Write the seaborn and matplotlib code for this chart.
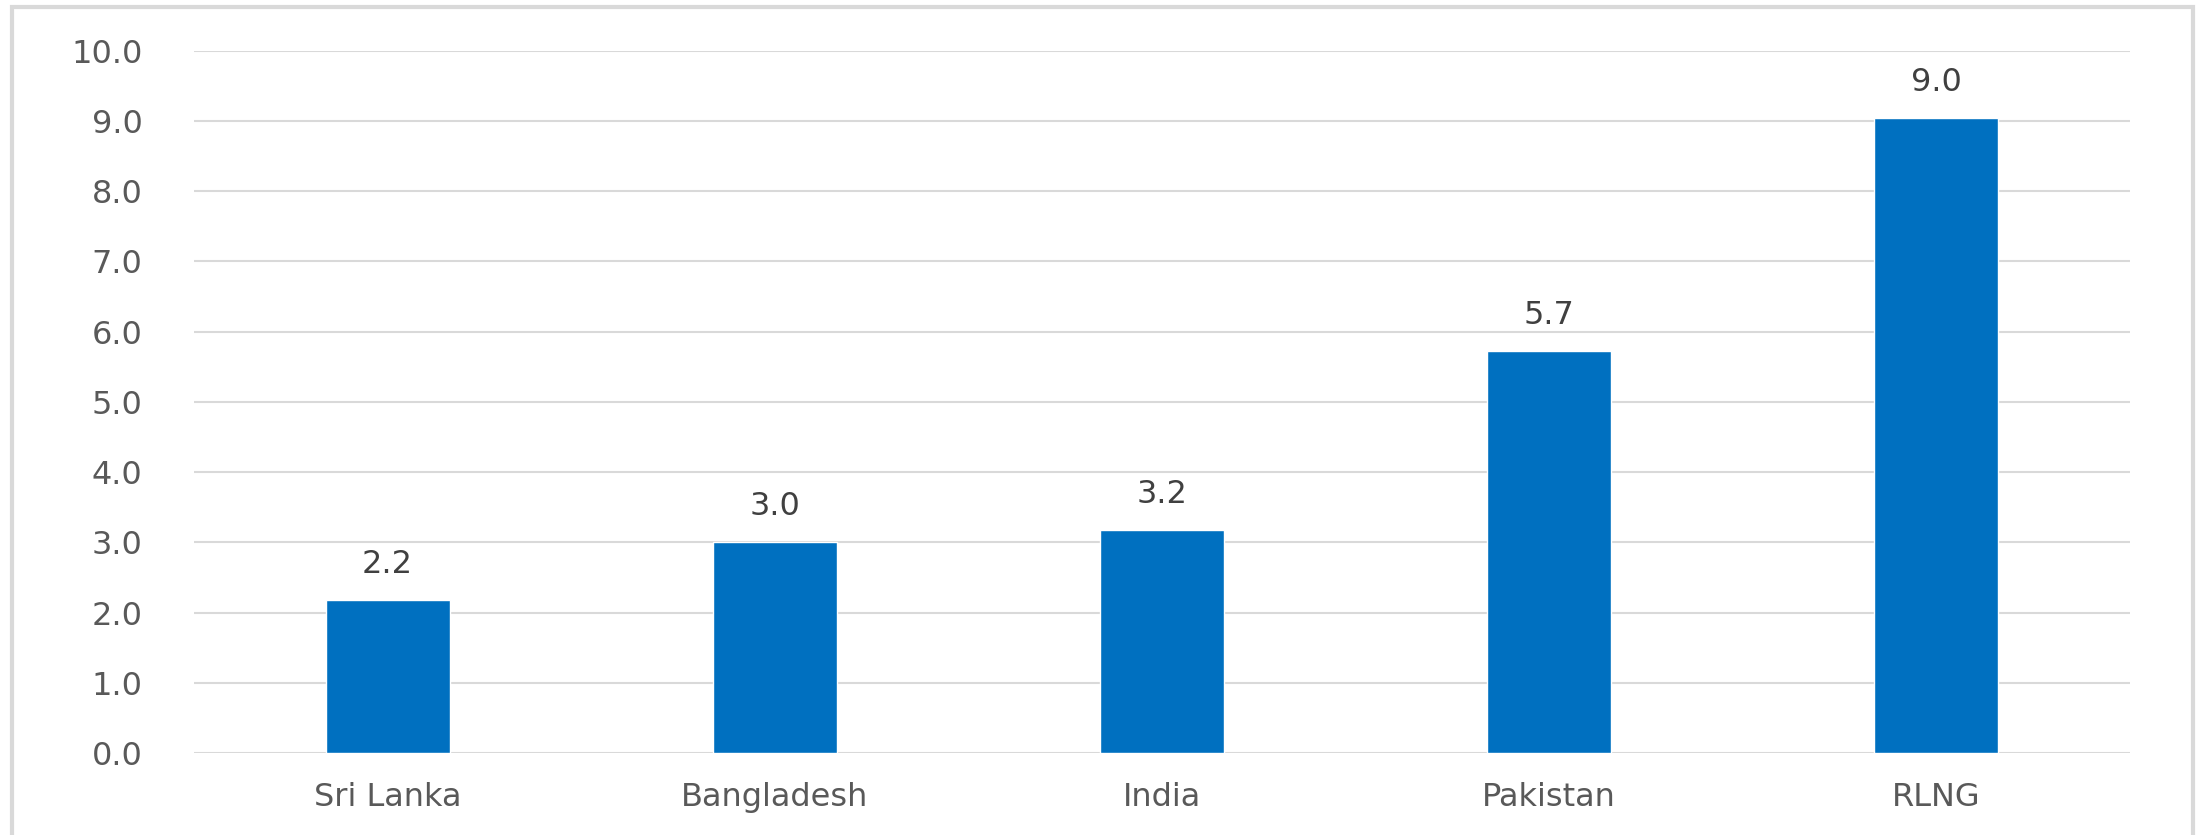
import matplotlib
matplotlib.use("Agg")
import matplotlib.pyplot as plt
import seaborn as sns
import pandas as pd
from matplotlib.patches import Rectangle

categories = ["Sri Lanka", "Bangladesh", "India", "Pakistan", "RLNG"]
values = [2.18, 3.00, 3.17, 5.72, 9.04]
yticks = [0, 1, 2, 3, 4, 5, 6, 7, 8, 9, 10]

sns.set_theme(style="white")
plt.rcParams['font.family'] = ['DejaVu Sans']

W, H = 2204, 835
fig = plt.figure(figsize=(W / 100, H / 100), dpi=100)
ax = fig.add_axes([194 / W, 82 / H, (2130 - 194) / W, (753 - 50.6) / H])

df = pd.DataFrame({"cat": categories, "val": values})
sns.barplot(data=df, x="cat", y="val", color="#0070C0", saturation=1,
            width=0.32, ax=ax, zorder=3)

ax.set_ylim(0, 10)
ax.set_yticks(yticks)
ax.set_yticklabels([f"{t:.1f}" for t in yticks])
ax.set_xlabel("")
ax.set_ylabel("")
ax.yaxis.grid(True, color="#d9d9d9", linewidth=1.5, zorder=0)
ax.set_axisbelow(True)
for s in ax.spines.values():
    s.set_visible(False)
ax.tick_params(axis="both", length=0, labelsize=23, colors="#595959")
ax.tick_params(axis="y", pad=37)
ax.tick_params(axis="x", pad=21)

for i, v in enumerate(values):
    ax.annotate(f"{v:.1f}", (i, v), xytext=(0, 19.5), textcoords="offset points",
                ha="center", va="baseline", fontsize=23, color="#404040")

# outer border (top, left, right)
fig.patches.append(Rectangle((12 / W, -0.05), (2193 - 12) / W, 1.05 - 7 / H,
                             transform=fig.transFigure, fill=False,
                             edgecolor="#d9d9d9", linewidth=3))

fig.savefig("out.png", dpi=100, facecolor="white")
